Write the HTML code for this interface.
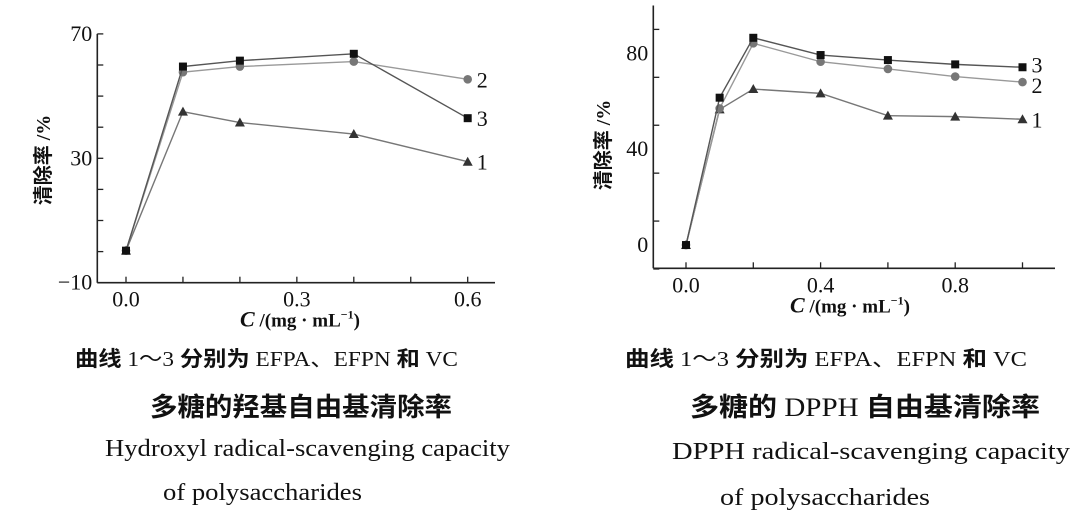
<!DOCTYPE html>
<html><head><meta charset="utf-8"><style>
body{margin:0;background:#fff;width:1080px;height:520px;overflow:hidden}
svg{display:block}
.t{font-family:"Liberation Serif","Noto Serif CJK SC",serif;fill:#111}
.cn{font-family:"Liberation Serif","Noto Sans CJK SC",sans-serif;fill:#111}
</style></head><body>
<svg id="s" width="1080" height="520">
<g id="left"></g>
<g id="right"></g>
<g>
<text class="cn" x="75" y="366" font-size="21" font-weight="bold" textLength="383" lengthAdjust="spacingAndGlyphs">曲线 <tspan font-weight="normal">1～3</tspan> 分别为 <tspan font-weight="normal">EFPA、EFPN</tspan> 和 <tspan font-weight="normal">VC</tspan></text>
<text class="cn" x="150" y="416" font-size="26" font-weight="bold" textLength="302" lengthAdjust="spacingAndGlyphs">多糖的羟基自由基清除率</text>
<text class="t" x="105" y="456" font-size="24" textLength="405" lengthAdjust="spacingAndGlyphs">Hydroxyl radical-scavenging capacity</text>
<text class="t" x="163" y="500" font-size="24" textLength="199" lengthAdjust="spacingAndGlyphs">of polysaccharides</text>
</g>
<g>
<text class="cn" x="625" y="366" font-size="21" font-weight="bold" textLength="402" lengthAdjust="spacingAndGlyphs">曲线 <tspan font-weight="normal">1～3</tspan> 分别为 <tspan font-weight="normal">EFPA、EFPN</tspan> 和 <tspan font-weight="normal">VC</tspan></text>
<text class="cn" x="690" y="416" font-size="26" font-weight="bold" textLength="350" lengthAdjust="spacingAndGlyphs">多糖的 <tspan font-weight="normal">DPPH</tspan> 自由基清除率</text>
<text class="t" x="672" y="459" font-size="24" textLength="398" lengthAdjust="spacingAndGlyphs">DPPH radical-scavenging capacity</text>
<text class="t" x="720" y="505" font-size="24" textLength="210" lengthAdjust="spacingAndGlyphs">of polysaccharides</text>
</g>
</svg>
<script>
const leftX=[0,0.1,0.2,0.4,0.6];
const leftS1=[0.3,45,41.5,37.8,28.9];
const leftS2=[0.3,57.7,59.5,61.1,55.4];
const leftS3=[0.3,59.5,61.4,63.6,42.9];
const leftYTicks=[-10,30,70];
const leftXTicks=[0,0.3,0.6];
const rightX=[0,0.1,0.2,0.4,0.6,0.8,1.0];
const rightS1=[0,56.6,65.1,63.3,54,53.6,52.5];
const rightS2=[0,57,84.2,76.5,73.5,70.3,68];
const rightS3=[0,61.5,86.5,79.3,77.2,75.4,74.2];
const rightYTicks=[0,40,80];
const rightXTicks=[0,0.4,0.8];
const NS="http://www.w3.org/2000/svg";
function mk(p,tag,a,txt){const e=document.createElementNS(NS,tag);for(const k in a)e.setAttribute(k,a[k]);if(txt!=null)e.textContent=txt;p.appendChild(e);return e;}
function chart(g,cfg){
 const sx=v=>cfg.x0px+(v-cfg.xmin)*cfg.xs, sy=v=>cfg.y0px-(v-cfg.ymin)*cfg.ys;
 let e=mk(g,'line',{x1:cfg.axX,y1:sy(cfg.ymax),x2:cfg.axX,y2:cfg.axY,stroke:'#222','stroke-width':1.6});
 
 e=mk(g,'line',{x1:cfg.axX,y1:cfg.axY,x2:cfg.axEnd,y2:cfg.axY,stroke:'#222','stroke-width':1.6});
 
 for(let v=cfg.ymin;v<=cfg.ymax+1e-9;v+=cfg.yminor){e=mk(g,'line',{x1:cfg.axX,y1:sy(v),x2:cfg.axX+6,y2:sy(v),stroke:'#222','stroke-width':1.3});}
 for(let v=cfg.xmin;v<=cfg.xmax+1e-9;v+=cfg.xminor){e=mk(g,'line',{x1:sx(v),y1:cfg.axY,x2:sx(v),y2:cfg.axY-6,stroke:'#222','stroke-width':1.3});}
 cfg.yt.forEach(v=>{e=mk(g,'text',{class:'t',x:cfg.axX-5,y:sy(v)+7,'text-anchor':'end','font-size':22},v<0?'−'+(-v):String(v));});
 cfg.xt.forEach(v=>{e=mk(g,'text',{class:'t',x:sx(v),y:cfg.axY+24,'text-anchor':'middle','font-size':22},v.toFixed(1));});
 e=mk(g,'text',{class:'t',x:cfg.xtX,y:cfg.axY+44,'text-anchor':'middle','font-size':19,'font-weight':'bold'});
 e.innerHTML='<tspan font-style="italic" font-size="22">C</tspan> /(mg · mL<tspan dy="-8" font-size="12">−1</tspan><tspan dy="8">)</tspan>';
 
 e=mk(g,'text',{class:'cn',x:0,y:0,'text-anchor':'middle','font-size':20,'font-weight':'bold',transform:`translate(${cfg.ytX},${cfg.ytY}) rotate(-90)`},'清除率 /%');
 
 cfg.series.forEach((s,i)=>{
  const pts=cfg.xs_.map((x,j)=>sx(x)+','+sy(s.d[j])).join(' ');
  e=mk(g,'polyline',{points:pts,fill:'none',stroke:s.lc,'stroke-width':1.4});
  
  cfg.xs_.forEach((x,j)=>{const cx=sx(x),cy=sy(s.d[j]);
   if(s.m==='sq')e=mk(g,'rect',{x:cx-4,y:cy-4,width:8,height:8,fill:'#111'});
   else if(s.m==='ci')e=mk(g,'circle',{cx:cx,cy:cy,r:4.3,fill:'#777'});
   else e=mk(g,'polygon',{points:`${cx},${cy-5} ${cx-5},${cy+4} ${cx+5},${cy+4}`,fill:'#333'});
   });
  const lx=sx(cfg.xs_[cfg.xs_.length-1]), ly=sy(s.d[s.d.length-1]);
  e=mk(g,'text',{class:'t',x:lx+9,y:ly+8+(s.dy||0),'font-size':22},String(s.n));
  
 });
}
chart(document.getElementById('left'),{xmin:0,xmax:0.6,ymin:-10,ymax:70,x0px:126,xs:569.5,y0px:282.7,ys:3.11,axX:97.3,axY:282.7,axEnd:495,yminor:10,xminor:0.1,yt:leftYTicks,xt:leftXTicks,xtX:300,ytX:50,ytY:160,xs_:leftX,
 series:[{n:1,d:leftS1,m:'tr',lc:'#777'},{n:2,d:leftS2,m:'ci',lc:'#999'},{n:3,d:leftS3,m:'sq',lc:'#555'}]});
chart(document.getElementById('right'),{xmin:0,xmax:1.0,ymin:-10,ymax:100,x0px:686,xs:336.5,y0px:269,ys:2.396,axX:653.3,axY:268.3,axEnd:1055,yminor:20,xminor:0.2,yt:rightYTicks,xt:rightXTicks,xtX:850,ytX:610,ytY:145,xs_:rightX,
 series:[{n:1,d:rightS1,m:'tr',lc:'#777'},{n:2,d:rightS2,m:'ci',lc:'#999',dy:3},{n:3,d:rightS3,m:'sq',lc:'#555',dy:-3}]});
</script>
</body></html>
